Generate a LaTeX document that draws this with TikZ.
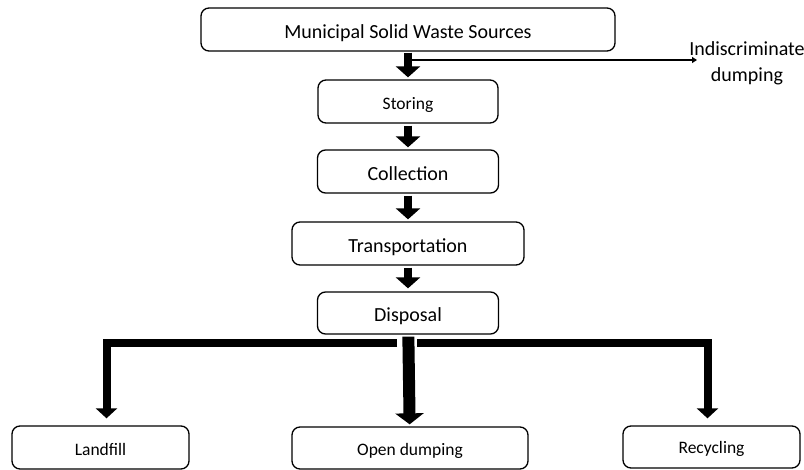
\documentclass[tikz,border=0pt]{standalone}
\usepackage{fontspec}
\setmainfont{Carlito}
\usetikzlibrary{arrows.meta}

\begin{document}
\begin{tikzpicture}[x=1pt,y=-1pt,
  box/.style={draw,rounded corners=8pt,line width=1.3pt,inner sep=0pt,minimum height=43pt,text height=19pt,text depth=0pt,font=\fontsize{20}{24}\selectfont},
  smallbox/.style={box,text height=15.5pt,font=\fontsize{17.5}{21}\selectfont},
  flow/.style={line width=8pt,-{Triangle[width=24pt,length=11pt]}},
  branch/.style={line width=8pt,-{Triangle[width=21pt,length=10pt]}},
  mainbranch/.style={line width=12pt,-{Triangle[width=28pt,length=11pt]}},
  side/.style={line width=2pt,-{Triangle[width=6pt,length=5pt]}}
]
\useasboundingbox (0,0) rectangle (804,470);
\node[box,minimum width=414pt] (msw) at (408,29.5) {Municipal Solid Waste Sources};
\node[smallbox,text height=17pt,minimum width=180pt] (stor) at (408,101.5) {Storing};
\node[box,minimum width=181pt] (coll) at (408,171.5) {Collection};
\node[box,minimum width=232pt] (trans) at (408,243.5) {Transportation};
\node[box,text height=18pt,minimum width=181pt,minimum height=42pt] (disp) at (408,313) {Disposal};
\node[smallbox,minimum width=177pt] (land) at (100.5,447.5) {Landfill};
\node[smallbox,minimum width=236pt,minimum height=42pt] (open) at (410,448) {Open dumping};
\node[smallbox,text height=13pt,minimum width=177pt,minimum height=42pt] (recy) at (711.5,447) {Recycling};
\node[align=center,inner sep=0pt,font=\fontsize{20}{26}\selectfont] (dump) at (747,63) {Indiscriminate\\dumping};

% flow down the column
\draw[flow,shorten <=1pt,shorten >=2pt] (msw) -- (stor);
\draw[flow,shorten <=2pt,shorten >=2pt] (stor) -- (coll);
\draw[flow,shorten <=2pt,shorten >=2pt] (coll) -- (trans);
\draw[flow,shorten <=2pt,shorten >=3pt] (trans) -- (disp);
\coordinate (fork) at (412,60);
\coordinate (dumpend) at (697,60);
\draw[side] (fork) -- (dumpend);

% disposal options
\coordinate (split) at (408,343.5);
\draw[branch,shorten >=7pt] ([xshift=-11pt]split) -| ([xshift=6pt]land.north);
\draw[branch,shorten >=7pt] ([xshift=9pt]split) -| ([xshift=-4pt]recy.north);
\draw[mainbranch,shorten <=2pt,shorten >=2pt] (disp) -- (open);
\end{tikzpicture}
\end{document}
